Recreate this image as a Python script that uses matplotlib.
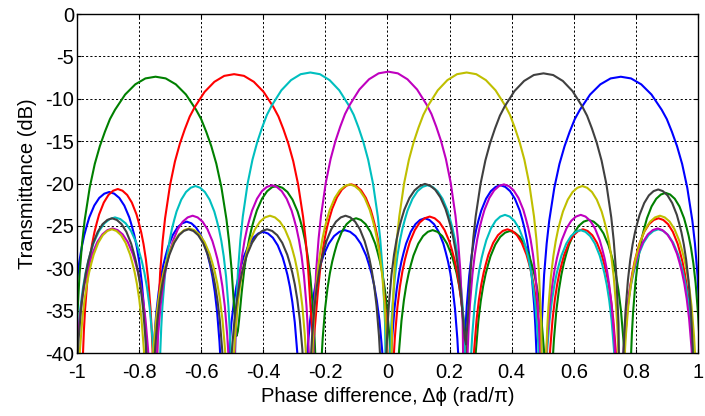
import numpy as np
import matplotlib
matplotlib.use('Agg')
import matplotlib.pyplot as plt

plt.rcParams['font.family'] = ['Liberation Sans', 'DejaVu Sans']
plt.rcParams['axes.unicode_minus'] = False

# lobe shape: dB below the lobe top, from the null (t=0) to the top (t=0.5)
lobe_t = [0.0, 0.015625, 0.03125, 0.046875, 0.0625, 0.09375, 0.125, 0.15625,
          0.1875, 0.21875, 0.25, 0.3125, 0.375, 0.4375, 0.5]
side_db = [-60.0, -26.2, -20.2, -16.7, -14.2, -10.7, -8.3, -6.5,
           -5.1, -4.0, -3.0, -1.6, -0.7, -0.2, 0.0]
main_db = [-60.0, -29.6, -23.4, -19.7, -17.0, -13.1, -10.3, -8.2,
           -6.5, -5.0, -3.9, -2.1, -0.9, -0.2, 0.0]

# per port: null positions (rad/pi), lobe top levels (dB), depth at each null (dB)
blue_nulls = [-1.025, -0.767, -0.526, -0.275, 0.0, 0.24, 0.488, 1.015]
blue_tops = [-21.0, -24.5, -25.7, -25.5, -24.1, -20.2, -7.4]
blue_depth = [-60, -60, -60, -60, -60, -60, -60, -60]

green_nulls = [-1.008, -0.486, -0.224, 0.022, 0.269, 0.52, 0.776, 1.015]
green_tops = [-7.4, -20.3, -24.1, -25.5, -25.6, -24.3, -21.1]
green_depth = [-45, -38, -60, -60, -60, -60, -60, -60]

red_nulls = [-0.989, -0.748, -0.240, 0.008, 0.264, 0.509, 0.75, 0.996]
red_tops = [-20.65, -7.1, -20.1, -23.9, -25.4, -25.4, -24.1]
red_depth = [-60, -60, -38.5, -60, -60, -60, -60, -60]

cyan_nulls = [-1.015, -0.74, -0.497, 0.0, 0.258, 0.499, 0.745, 1.0]
cyan_tops = [-24.0, -20.3, -6.9, -20.2, -23.7, -25.5, -25.4]
cyan_depth = [-60, -60, -60, -60, -60, -60, -60, -60]

magenta_nulls = [-1.016, -0.755, -0.50, -0.245, 0.25, 0.50, 0.745, 0.995]
magenta_tops = [-25.3, -23.8, -20.2, -6.8, -20.1, -23.7, -25.3]
magenta_depth = [-60, -60, -60, -60, -60, -60, -60, -60]

yellow_nulls = [-1.005, -0.77, -0.507, -0.25, 0.007, 0.503, 0.752, 1.003]
yellow_tops = [-25.4, -25.3, -23.8, -20.1, -6.9, -20.3, -23.8]
yellow_depth = [-60, -60, -60, -60, -60, -60, -60, -60]

black_nulls = [-1.01, -0.764, -0.517, -0.258, -0.012, 0.253, 0.752, 0.992]
black_tops = [-24.1, -25.4, -25.4, -23.8, -20.1, -7.0, -20.7]
black_depth = [-60, -60, -60, -60, -60, -39, -60, -60]

x_ticks = [-1, -0.8, -0.6, -0.4, -0.2, 0, 0.2, 0.4, 0.6, 0.8, 1]
x_labels = ['-1', '-0.8', '-0.6', '-0.4', '-0.2', '0', '0.2', '0.4', '0.6', '0.8', '1']
y_ticks = [0, -5, -10, -15, -20, -25, -30, -35, -40]
y_labels = ['0', '-5', '-10', '-15', '-20', '-25', '-30', '-35', '-40']

curves = [
    ((0, 0, 1), blue_nulls, blue_tops, blue_depth),
    ((0, 0.5, 0), green_nulls, green_tops, green_depth),
    ((1, 0, 0), red_nulls, red_tops, red_depth),
    ((0, 0.75, 0.75), cyan_nulls, cyan_tops, cyan_depth),
    ((0.75, 0, 0.75), magenta_nulls, magenta_tops, magenta_depth),
    ((0.75, 0.75, 0), yellow_nulls, yellow_tops, yellow_depth),
    ((0.25, 0.25, 0.25), black_nulls, black_tops, black_depth),
]


def lobe(a, b, top, d0, d1):
    shape = main_db if top > -15 else side_db
    t = np.array(lobe_t + [1 - v for v in lobe_t[-2::-1]])
    rel = np.array(shape + shape[-2::-1])
    y = top + rel
    # a null that is not deep: add its floor in power so the dip is rounded
    floor = np.where(t < 0.5, d0, d1)
    y = 10 * np.log10(10 ** (y / 10) + 10 ** (floor / 10))
    return a + t * (b - a), y


def trace(nulls, tops, depth):
    xs, ys = [], []
    for i in range(len(tops)):
        x, y = lobe(nulls[i], nulls[i + 1], tops[i], depth[i], depth[i + 1])
        if i > 0:
            x, y = x[1:], y[1:]
        xs.append(x)
        ys.append(y)
    return np.concatenate(xs), np.concatenate(ys)


fig = plt.figure(figsize=(7.05, 4.16), dpi=100)
ax = fig.add_axes([0.1092, 0.1514, 0.8808, 0.8149])

for color, nulls, tops, depth in curves:
    x, y = trace(nulls, tops, depth)
    ax.plot(x, y, color=color, linewidth=1.5)

ax.set_xlim(-1, 1)
ax.set_ylim(-40, 0)
ax.set_xticks(x_ticks)
ax.set_xticklabels(x_labels)
ax.set_yticks(y_ticks)
ax.set_yticklabels(y_labels)
ax.tick_params(direction='in', top=True, right=True, length=3, labelsize=14.5)
ax.tick_params(axis='x', pad=7)
ax.tick_params(axis='y', pad=2)
ax.grid(True, color='k', linestyle=(0, (2.2, 2.2)), linewidth=0.7)
for s in ax.spines.values():
    s.set_linewidth(1.0)
    s.set_color('k')

ax.set_xlabel('Phase difference, \u0394\u03d5 (rad/\u03c0)', fontsize=14.5, labelpad=4)
ax.set_ylabel('Transmittance (dB)', fontsize=14.5, labelpad=6)

fig.savefig('out.png', dpi=100)
